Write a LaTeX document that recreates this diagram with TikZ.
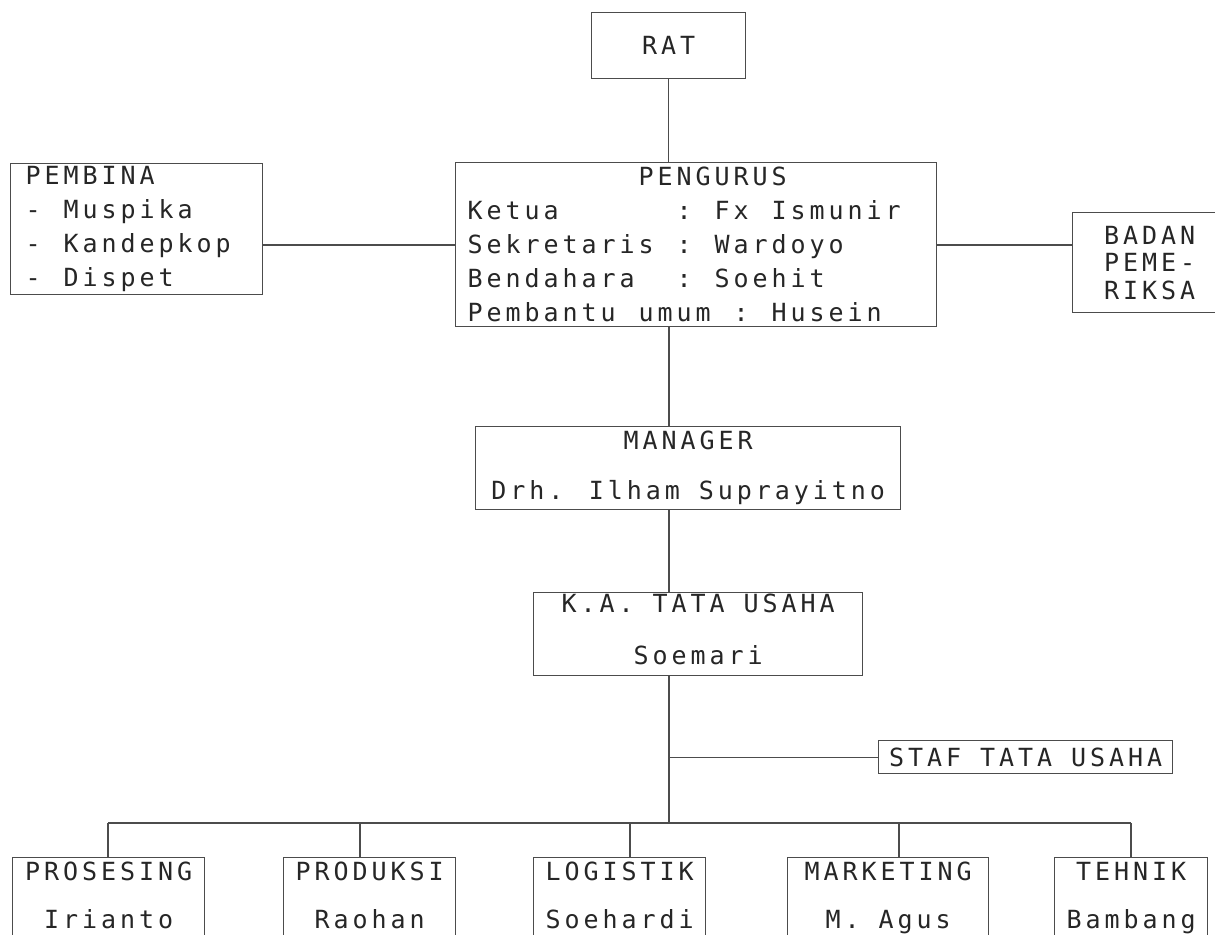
\documentclass[tikz,border=0pt]{standalone}
\usepackage{fontspec}
% wide-tracked monospace, like a dot-matrix printout
\newfontfamily\dotfont[LetterSpace=15.8]{DejaVu Sans Mono}
% one character cell of the printout is 19pt wide
\newcommand\cells[2]{\makebox[#1\dimexpr19pt\relax][l]{#2}}
\begin{document}
\begin{tikzpicture}[x=1pt,y=-1pt,
  chart/.style={draw=black!70, line width=1.4pt},
  box/.style={rectangle, draw=black!70, line width=1.4pt, inner sep=0pt,
    text=black!85, font=\dotfont\fontsize{25}{34}\selectfont,
    align=center, anchor=north west},
  leftbox/.style={box, align=left, inner xsep=#1},
  dept/.style={box, minimum height=85},
]
\fill[white] (0,0) rectangle (1215,934);
\useasboundingbox (0,0) rectangle (1215,934);

% top of the hierarchy
\node[box, minimum width=154, minimum height=66] (rat) at (591,12) {RAT};

\node[leftbox=15pt, text width=222pt, minimum height=131] (pembina) at (10,163)
  {PEMBINA\\\cells{2}{-}Muspika\\\cells{2}{-}Kandepkop\\\cells{2}{-}Dispet};

\node[leftbox=12pt, text width=457pt, minimum height=164] (peng) at (455,162)
  {\hspace*{171pt}PENGURUS\\
   \cells{11}{Ketua}\cells{2}{:}\cells{3}{Fx}Ismunir\\
   \cells{11}{Sekretaris}\cells{2}{:}Wardoyo\\
   \cells{11}{Bendahara}\cells{2}{:}Soehit\\
   \cells{9}{Pembantu}\cells{5}{umum}\cells{2}{:}Husein};

\node[box, minimum width=154, minimum height=100,
      font=\dotfont\fontsize{25}{27.5}\selectfont] (badan) at (1072,212)
  {BADAN\\PEME-\\RIKSA};

% management line
\node[box, minimum width=425, minimum height=83] (mgr) at (475,426)
  {MANAGER\\[16pt]Drh. Ilham Suprayitno};

\node[box, minimum width=329, minimum height=83] (ka) at (533,592)
  {K.A. TATA USAHA\\[18pt]Soemari\strut};

\node[box, minimum width=294, minimum height=33] (staf) at (878,740)
  {STAF TATA USAHA};

% departments
\node[dept, minimum width=192] (pros) at (12,857)
  {PROSESING\\[14pt]Irianto\strut};
\node[dept, minimum width=172] (prod) at (283,857)
  {PRODUKSI\\[14pt]Raohan\strut};
\node[dept, minimum width=172] (logi) at (533,857)
  {LOGISTIK\\[14pt]Soehardi\strut};
\node[dept, minimum width=201] (mark) at (787,857)
  {MARKETING\\[14pt]M. Agus\strut};
\node[dept, minimum width=153] (tehn) at (1054,857)
  {TEHNIK\\[14pt]Bambang\strut};

% connector helpers
\coordinate (spine) at (669,0);
\coordinate (row) at (0,245);
\coordinate (bus) at (669,823);
\coordinate (d1) at (108,823);
\coordinate (d2) at (360,823);
\coordinate (d3) at (630,823);
\coordinate (d4) at (899,823);
\coordinate (d5) at (1131,823);

% connectors
\draw[chart] (rat.south) -- (rat.south |- peng.north);
\draw[chart] (pembina.east |- row) -- (peng.west |- row);
\draw[chart] (peng.east |- row) -- (badan.west |- row);
\draw[chart] (peng.south -| spine) -- (mgr.north -| spine);
\draw[chart] (mgr.south -| spine) -- (ka.north -| spine);
\draw[chart] (ka.south -| spine) -- (bus);
\draw[chart] (staf.west -| spine) -- (staf.west);
\draw[chart] (d1) -- (d5);
\draw[chart] (d1) -- (d1 |- pros.north);
\draw[chart] (d2) -- (d2 |- prod.north);
\draw[chart] (d3) -- (d3 |- logi.north);
\draw[chart] (d4) -- (d4 |- mark.north);
\draw[chart] (d5) -- (d5 |- tehn.north);
\end{tikzpicture}
\end{document}
